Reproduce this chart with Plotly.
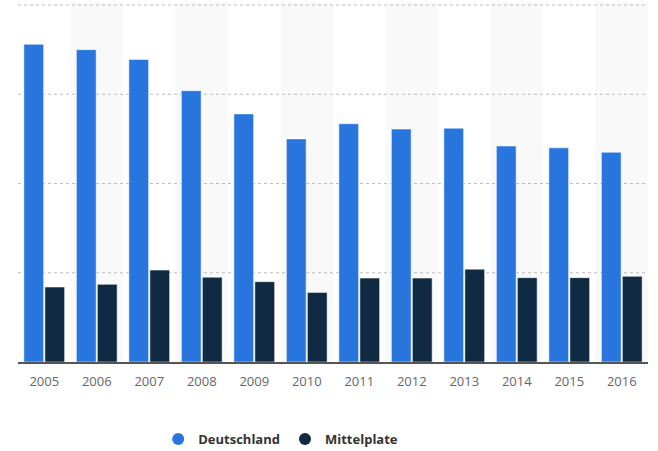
import plotly.graph_objects as go

years = ["2005", "2006", "2007", "2008", "2009", "2010", "2011", "2012", "2013", "2014", "2015", "2016"]
deutschland = [3.56, 3.50, 3.39, 3.04, 2.78, 2.50, 2.67, 2.61, 2.62, 2.42, 2.40, 2.35]
mittelplate = [0.84, 0.87, 1.03, 0.95, 0.90, 0.78, 0.94, 0.94, 1.04, 0.945, 0.945, 0.96]
grid_values = [1, 2, 3, 4]

c_de = "#2876dd"
c_mp = "#0f2a42"

fig = go.Figure()
fig.add_trace(go.Bar(x=years, y=deutschland, marker=dict(color=c_de, line=dict(color="rgba(255,255,255,0.5)", width=1)),
                     showlegend=False, hoverinfo="y"))
fig.add_trace(go.Bar(x=years, y=mittelplate, marker=dict(color=c_mp, line=dict(color="rgba(255,255,255,0.5)", width=1)),
                     showlegend=False, hoverinfo="y"))
# legend entries with circle markers
fig.add_trace(go.Scatter(x=[None], y=[None], mode="markers", name="<b>Deutschland</b>",
                         marker=dict(color=c_de, size=12, symbol="circle")))
fig.add_trace(go.Scatter(x=[None], y=[None], mode="markers", name="<b>Mittelplate</b>",
                         marker=dict(color=c_mp, size=12, symbol="circle")))

shapes = []
for i, _ in enumerate(years):
    if i % 2 == 1:
        shapes.append(dict(type="rect", xref="x", yref="paper", x0=i - 0.5, x1=i + 0.5, y0=0, y1=1,
                           fillcolor="#f9f9f9", line=dict(width=0), layer="below"))
# dotted gridlines drawn as shapes (so the top one is kept)
for g in grid_values:
    shapes.append(dict(type="line", xref="paper", yref="y", x0=0, x1=1, y0=g, y1=g,
                       line=dict(color="#bdbdbd", width=1, dash="dot"), layer="below"))

fig.update_layout(
    width=658, height=451,
    margin=dict(l=18, r=10, t=2, b=89, autoexpand=False),
    paper_bgcolor="white", plot_bgcolor="white",
    barmode="group", bargap=0.2, bargroupgap=0.06,
    shapes=shapes,
    font=dict(family="Open Sans", size=13, color="#666666"),
    legend=dict(orientation="h", x=0.417, xanchor="center", y=-0.214, yanchor="middle",
                font=dict(family="Open Sans", size=13, color="#333333"), itemsizing="constant"),
    xaxis=dict(type="category", showline=True, linecolor="#555555", linewidth=1.5,
               ticks="", tickfont=dict(size=13, color="#666666"), showgrid=False, fixedrange=True,
               ticklabelstandoff=7),
    yaxis=dict(range=[0, 4.034], tickvals=grid_values, showticklabels=False, showgrid=False,
               zeroline=False, showline=False, fixedrange=True),
)

fig.write_html("out.html")
